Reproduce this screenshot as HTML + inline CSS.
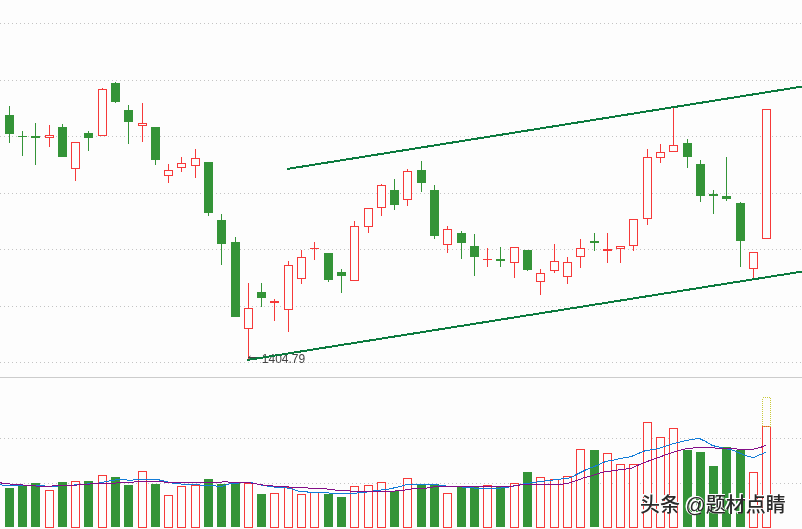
<!DOCTYPE html>
<html lang="zh"><head><meta charset="utf-8"><title>chart</title>
<style>
html,body{margin:0;padding:0;background:#fdfdfd;}
body{width:802px;height:529px;position:relative;overflow:hidden;font-family:"Liberation Sans","Noto Sans CJK SC",sans-serif;}
.wm{position:absolute;left:640px;top:490.5px;font-size:20px;line-height:28px;color:#2a2a2a;font-weight:500;white-space:nowrap;
text-shadow:-1px -1px 0 #fff,-1.5px -1.5px 0 #fff,-1px 0 0 #fff,0 -1px 0 #fff;}
</style></head><body>
<svg width="802" height="529" viewBox="0 0 802 529" style="position:absolute;left:0;top:0">
<rect width="802" height="529" fill="#fdfdfd"/>
<g stroke="#c4c4c4" stroke-width="1" stroke-dasharray="1 3" shape-rendering="crispEdges">
<line x1="0" y1="23.5" x2="802" y2="23.5"/>
<line x1="0" y1="80.5" x2="802" y2="80.5"/>
<line x1="0" y1="136.5" x2="802" y2="136.5"/>
<line x1="0" y1="193.5" x2="802" y2="193.5"/>
<line x1="0" y1="249.5" x2="802" y2="249.5"/>
<line x1="0" y1="306.5" x2="802" y2="306.5"/>
<line x1="0" y1="362.5" x2="802" y2="362.5"/>
<line x1="0" y1="438.5" x2="802" y2="438.5"/>
<line x1="0" y1="483.5" x2="802" y2="483.5"/>
</g>
<rect x="0" y="377" width="802" height="1" fill="#cccccc" shape-rendering="crispEdges"/>
<g shape-rendering="crispEdges">
<rect x="5" y="488" width="9" height="39" fill="#349438"/>
<rect x="18" y="485" width="9" height="42" fill="#349438"/>
<rect x="31" y="483" width="9" height="44" fill="#349438"/>
<rect x="45.5" y="490.5" width="8" height="37" fill="#fdfdfd" stroke="#f63939" stroke-width="1"/>
<rect x="58" y="482" width="9" height="45" fill="#349438"/>
<rect x="71.5" y="481.5" width="8" height="46" fill="#fdfdfd" stroke="#f63939" stroke-width="1"/>
<rect x="84" y="481" width="9" height="46" fill="#349438"/>
<rect x="98.5" y="475.5" width="8" height="52" fill="#fdfdfd" stroke="#f63939" stroke-width="1"/>
<rect x="111" y="477" width="9" height="50" fill="#349438"/>
<rect x="124" y="485" width="9" height="42" fill="#349438"/>
<rect x="138.5" y="471.5" width="8" height="56" fill="#fdfdfd" stroke="#f63939" stroke-width="1"/>
<rect x="151" y="484" width="9" height="43" fill="#349438"/>
<rect x="164.5" y="495.5" width="8" height="32" fill="#fdfdfd" stroke="#f63939" stroke-width="1"/>
<rect x="177.5" y="486.5" width="8" height="41" fill="#fdfdfd" stroke="#f63939" stroke-width="1"/>
<rect x="191.5" y="485.5" width="8" height="42" fill="#fdfdfd" stroke="#f63939" stroke-width="1"/>
<rect x="204" y="479" width="9" height="48" fill="#349438"/>
<rect x="217" y="484" width="9" height="43" fill="#349438"/>
<rect x="231" y="482" width="9" height="45" fill="#349438"/>
<rect x="244.5" y="483.5" width="8" height="44" fill="#fdfdfd" stroke="#f63939" stroke-width="1"/>
<rect x="257" y="494" width="9" height="33" fill="#349438"/>
<rect x="270.5" y="493.5" width="8" height="34" fill="#fdfdfd" stroke="#f63939" stroke-width="1"/>
<rect x="284.5" y="487.5" width="8" height="40" fill="#fdfdfd" stroke="#f63939" stroke-width="1"/>
<rect x="297.5" y="494.5" width="8" height="33" fill="#fdfdfd" stroke="#f63939" stroke-width="1"/>
<rect x="310.5" y="492.5" width="8" height="35" fill="#fdfdfd" stroke="#f63939" stroke-width="1"/>
<rect x="324" y="494" width="9" height="33" fill="#349438"/>
<rect x="337" y="497" width="9" height="30" fill="#349438"/>
<rect x="350.5" y="486.5" width="8" height="41" fill="#fdfdfd" stroke="#f63939" stroke-width="1"/>
<rect x="364.5" y="485.5" width="8" height="42" fill="#fdfdfd" stroke="#f63939" stroke-width="1"/>
<rect x="377.5" y="482.5" width="8" height="45" fill="#fdfdfd" stroke="#f63939" stroke-width="1"/>
<rect x="390" y="491" width="9" height="36" fill="#349438"/>
<rect x="403.5" y="478.5" width="8" height="49" fill="#fdfdfd" stroke="#f63939" stroke-width="1"/>
<rect x="417" y="484" width="9" height="43" fill="#349438"/>
<rect x="430" y="484" width="9" height="43" fill="#349438"/>
<rect x="443.5" y="493.5" width="8" height="34" fill="#fdfdfd" stroke="#f63939" stroke-width="1"/>
<rect x="457" y="486" width="9" height="41" fill="#349438"/>
<rect x="470" y="486" width="9" height="41" fill="#349438"/>
<rect x="483.5" y="485.5" width="8" height="42" fill="#fdfdfd" stroke="#f63939" stroke-width="1"/>
<rect x="496" y="486" width="9" height="41" fill="#349438"/>
<rect x="510.5" y="483.5" width="8" height="44" fill="#fdfdfd" stroke="#f63939" stroke-width="1"/>
<rect x="523" y="472" width="9" height="55" fill="#349438"/>
<rect x="536.5" y="477.5" width="8" height="50" fill="#fdfdfd" stroke="#f63939" stroke-width="1"/>
<rect x="550.5" y="479.5" width="8" height="48" fill="#fdfdfd" stroke="#f63939" stroke-width="1"/>
<rect x="563.5" y="476.5" width="8" height="51" fill="#fdfdfd" stroke="#f63939" stroke-width="1"/>
<rect x="576.5" y="449.5" width="8" height="78" fill="#fdfdfd" stroke="#f63939" stroke-width="1"/>
<rect x="590" y="450" width="9" height="77" fill="#349438"/>
<rect x="603.5" y="453.5" width="8" height="74" fill="#fdfdfd" stroke="#f63939" stroke-width="1"/>
<rect x="616.5" y="464.5" width="8" height="63" fill="#fdfdfd" stroke="#f63939" stroke-width="1"/>
<rect x="629.5" y="464.5" width="8" height="63" fill="#fdfdfd" stroke="#f63939" stroke-width="1"/>
<rect x="643.5" y="422.5" width="8" height="105" fill="#fdfdfd" stroke="#f63939" stroke-width="1"/>
<rect x="656.5" y="437.5" width="8" height="90" fill="#fdfdfd" stroke="#f63939" stroke-width="1"/>
<rect x="669.5" y="428.5" width="8" height="99" fill="#fdfdfd" stroke="#f63939" stroke-width="1"/>
<rect x="683" y="450" width="9" height="77" fill="#349438"/>
<rect x="696" y="452" width="9" height="75" fill="#349438"/>
<rect x="709" y="466" width="9" height="61" fill="#349438"/>
<rect x="722" y="447" width="9" height="80" fill="#349438"/>
<rect x="736" y="450" width="9" height="77" fill="#349438"/>
<rect x="749.5" y="472.5" width="8" height="55" fill="#fdfdfd" stroke="#f63939" stroke-width="1"/>
<rect x="762.5" y="426.5" width="8" height="101" fill="#fdfdfd" stroke="#f63939" stroke-width="1"/>
</g>
<rect x="762.5" y="397.5" width="8" height="29" fill="none" stroke="#c9c93a" stroke-width="1" stroke-dasharray="1 1" shape-rendering="crispEdges"/>
<polyline points="0,484.2 3,485.4 30,485.5 50,486.2 62,485.9 82,484.4 100,482.9 110,480.7 120,479.2 130,480.4 140,479 155,479 165,481.2 175,483.7 185,484.2 200,485.0 222,486.4 230,483.7 250,482.2 262,485.2 275,487.2 290,488.2 300,491.7 312,492.2 337,493.4 362,492.9 375,490.7 387,489.4 400,486.6 407,484.4 437,484.9 450,486.6 465,487.1 475,488.1 500,488.1 510,486.9 525,483.6 550,480.4 570,477.9 585,470.2 590,468.0 597,465.5 601,463.4 606,461.4 611.6,460.5 617,459.2 631,456.6 644,451.1 658,448.7 672,444 685,440.8 699,438.3 706,441.6 712,445.4 720,447.3 733,450.3 746,455.7 754,457.7 760,454.7 766,452.2" fill="none" stroke="#127cd8" stroke-width="1" shape-rendering="crispEdges"/>
<polyline points="0,482.5 3,483.5 16,484.5 29,485.5 43,486.5 56,485.8 75,485.2 100,483.2 125,482.9 140,481.4 160,481.7 175,482.9 200,482.7 225,481.9 250,482.9 262,484.9 275,486.2 300,487.7 325,488.7 340,490.7 362,491.4 375,491.4 400,490.9 412,488.9 425,488.4 437,486.4 462,486.6 487,486.4 510,486.4 525,484.4 550,484.4 560,484.4 570,482.9 585,477.4 590,476.4 603,472.1 617,470.2 631,468.3 644,462.6 658,457.7 672,452.5 685,448.9 699,447.3 712,447.9 726,448.4 740,449.2 753,449.2 760,447.6 766,445.1" fill="none" stroke="#840f88" stroke-width="1" shape-rendering="crispEdges"/>
<g shape-rendering="crispEdges">
<rect x="9" y="106" width="1" height="37" fill="#349438"/>
<rect x="5" y="115" width="9" height="19" fill="#349438"/>
<rect x="22" y="131" width="1" height="25" fill="#349438"/>
<rect x="18" y="136" width="9" height="1" fill="#349438"/>
<rect x="35" y="123" width="1" height="42" fill="#349438"/>
<rect x="31" y="136" width="9" height="2" fill="#349438"/>
<rect x="49" y="125" width="1" height="10" fill="#f63939"/>
<rect x="49" y="138" width="1" height="9" fill="#f63939"/>
<rect x="45.5" y="135.5" width="8" height="2" fill="#fdfdfd" stroke="#f63939" stroke-width="1"/>
<rect x="62" y="124" width="1" height="33" fill="#349438"/>
<rect x="58" y="127" width="9" height="30" fill="#349438"/>
<rect x="75" y="169" width="1" height="12" fill="#f63939"/>
<rect x="71.5" y="142.5" width="8" height="26" fill="#fdfdfd" stroke="#f63939" stroke-width="1"/>
<rect x="88" y="131" width="1" height="20" fill="#349438"/>
<rect x="84" y="133" width="9" height="5" fill="#349438"/>
<rect x="102" y="88" width="1" height="1" fill="#f63939"/>
<rect x="98.5" y="89.5" width="8" height="46" fill="#fdfdfd" stroke="#f63939" stroke-width="1"/>
<rect x="115" y="82" width="1" height="21" fill="#349438"/>
<rect x="111" y="83" width="9" height="19" fill="#349438"/>
<rect x="128" y="105" width="1" height="39" fill="#349438"/>
<rect x="124" y="110" width="9" height="12" fill="#349438"/>
<rect x="142" y="103" width="1" height="20" fill="#f63939"/>
<rect x="142" y="126" width="1" height="16" fill="#f63939"/>
<rect x="138.5" y="123.5" width="8" height="2" fill="#fdfdfd" stroke="#f63939" stroke-width="1"/>
<rect x="155" y="127" width="1" height="38" fill="#349438"/>
<rect x="151" y="127" width="9" height="33" fill="#349438"/>
<rect x="168" y="164" width="1" height="6" fill="#f63939"/>
<rect x="168" y="176" width="1" height="7" fill="#f63939"/>
<rect x="164.5" y="170.5" width="8" height="5" fill="#fdfdfd" stroke="#f63939" stroke-width="1"/>
<rect x="181" y="157" width="1" height="6" fill="#f63939"/>
<rect x="181" y="168" width="1" height="4" fill="#f63939"/>
<rect x="177.5" y="163.5" width="8" height="4" fill="#fdfdfd" stroke="#f63939" stroke-width="1"/>
<rect x="195" y="149" width="1" height="9" fill="#f63939"/>
<rect x="195" y="166" width="1" height="12" fill="#f63939"/>
<rect x="191.5" y="158.5" width="8" height="7" fill="#fdfdfd" stroke="#f63939" stroke-width="1"/>
<rect x="208" y="162" width="1" height="54" fill="#349438"/>
<rect x="204" y="162" width="9" height="51" fill="#349438"/>
<rect x="221" y="214" width="1" height="51" fill="#349438"/>
<rect x="217" y="220" width="9" height="24" fill="#349438"/>
<rect x="235" y="237" width="1" height="80" fill="#349438"/>
<rect x="231" y="242" width="9" height="75" fill="#349438"/>
<rect x="248" y="283" width="1" height="25" fill="#f63939"/>
<rect x="248" y="329" width="1" height="30" fill="#f63939"/>
<rect x="244.5" y="308.5" width="8" height="20" fill="#fdfdfd" stroke="#f63939" stroke-width="1"/>
<rect x="261" y="283" width="1" height="24" fill="#349438"/>
<rect x="257" y="292" width="9" height="6" fill="#349438"/>
<rect x="274" y="299" width="1" height="2" fill="#f63939"/>
<rect x="274" y="303" width="1" height="18" fill="#f63939"/>
<rect x="270" y="301" width="9" height="2" fill="#f63939"/>
<rect x="288" y="261" width="1" height="4" fill="#f63939"/>
<rect x="288" y="310" width="1" height="22" fill="#f63939"/>
<rect x="284.5" y="265.5" width="8" height="44" fill="#fdfdfd" stroke="#f63939" stroke-width="1"/>
<rect x="301" y="250" width="1" height="7" fill="#f63939"/>
<rect x="301" y="279" width="1" height="5" fill="#f63939"/>
<rect x="297.5" y="257.5" width="8" height="21" fill="#fdfdfd" stroke="#f63939" stroke-width="1"/>
<rect x="314" y="242" width="1" height="6" fill="#f63939"/>
<rect x="314" y="249" width="1" height="11" fill="#f63939"/>
<rect x="310" y="248" width="9" height="1" fill="#f63939"/>
<rect x="328" y="253" width="1" height="29" fill="#349438"/>
<rect x="324" y="253" width="9" height="27" fill="#349438"/>
<rect x="341" y="269" width="1" height="24" fill="#349438"/>
<rect x="337" y="272" width="9" height="4" fill="#349438"/>
<rect x="354" y="221" width="1" height="5" fill="#f63939"/>
<rect x="350.5" y="226.5" width="8" height="54" fill="#fdfdfd" stroke="#f63939" stroke-width="1"/>
<rect x="368" y="227" width="1" height="6" fill="#f63939"/>
<rect x="364.5" y="208.5" width="8" height="18" fill="#fdfdfd" stroke="#f63939" stroke-width="1"/>
<rect x="381" y="184" width="1" height="1" fill="#f63939"/>
<rect x="381" y="208" width="1" height="8" fill="#f63939"/>
<rect x="377.5" y="185.5" width="8" height="22" fill="#fdfdfd" stroke="#f63939" stroke-width="1"/>
<rect x="394" y="179" width="1" height="31" fill="#349438"/>
<rect x="390" y="190" width="9" height="15" fill="#349438"/>
<rect x="407" y="169" width="1" height="2" fill="#f63939"/>
<rect x="407" y="200" width="1" height="6" fill="#f63939"/>
<rect x="403.5" y="171.5" width="8" height="28" fill="#fdfdfd" stroke="#f63939" stroke-width="1"/>
<rect x="421" y="161" width="1" height="31" fill="#349438"/>
<rect x="417" y="170" width="9" height="13" fill="#349438"/>
<rect x="434" y="185" width="1" height="54" fill="#349438"/>
<rect x="430" y="190" width="9" height="46" fill="#349438"/>
<rect x="447" y="226" width="1" height="3" fill="#f63939"/>
<rect x="447" y="245" width="1" height="8" fill="#f63939"/>
<rect x="443.5" y="229.5" width="8" height="15" fill="#fdfdfd" stroke="#f63939" stroke-width="1"/>
<rect x="461" y="231" width="1" height="28" fill="#349438"/>
<rect x="457" y="233" width="9" height="10" fill="#349438"/>
<rect x="474" y="234" width="1" height="42" fill="#349438"/>
<rect x="470" y="246" width="9" height="11" fill="#349438"/>
<rect x="487" y="248" width="1" height="11" fill="#f63939"/>
<rect x="487" y="260" width="1" height="7" fill="#f63939"/>
<rect x="483" y="259" width="9" height="1" fill="#f63939"/>
<rect x="500" y="247" width="1" height="20" fill="#349438"/>
<rect x="496" y="259" width="9" height="2" fill="#349438"/>
<rect x="514" y="263" width="1" height="15" fill="#f63939"/>
<rect x="510.5" y="247.5" width="8" height="15" fill="#fdfdfd" stroke="#f63939" stroke-width="1"/>
<rect x="527" y="250" width="1" height="21" fill="#349438"/>
<rect x="523" y="250" width="9" height="20" fill="#349438"/>
<rect x="540" y="269" width="1" height="4" fill="#f63939"/>
<rect x="540" y="282" width="1" height="13" fill="#f63939"/>
<rect x="536.5" y="273.5" width="8" height="8" fill="#fdfdfd" stroke="#f63939" stroke-width="1"/>
<rect x="554" y="244" width="1" height="17" fill="#f63939"/>
<rect x="554" y="271" width="1" height="2" fill="#f63939"/>
<rect x="550.5" y="261.5" width="8" height="9" fill="#fdfdfd" stroke="#f63939" stroke-width="1"/>
<rect x="567" y="257" width="1" height="5" fill="#f63939"/>
<rect x="567" y="277" width="1" height="7" fill="#f63939"/>
<rect x="563.5" y="262.5" width="8" height="14" fill="#fdfdfd" stroke="#f63939" stroke-width="1"/>
<rect x="580" y="239" width="1" height="9" fill="#f63939"/>
<rect x="580" y="257" width="1" height="11" fill="#f63939"/>
<rect x="576.5" y="248.5" width="8" height="8" fill="#fdfdfd" stroke="#f63939" stroke-width="1"/>
<rect x="594" y="233" width="1" height="18" fill="#349438"/>
<rect x="590" y="241" width="9" height="2" fill="#349438"/>
<rect x="607" y="233" width="1" height="16" fill="#f63939"/>
<rect x="607" y="251" width="1" height="12" fill="#f63939"/>
<rect x="603" y="249" width="9" height="2" fill="#f63939"/>
<rect x="620" y="249" width="1" height="14" fill="#f63939"/>
<rect x="616.5" y="246.5" width="8" height="2" fill="#fdfdfd" stroke="#f63939" stroke-width="1"/>
<rect x="633" y="246" width="1" height="5" fill="#f63939"/>
<rect x="629.5" y="219.5" width="8" height="26" fill="#fdfdfd" stroke="#f63939" stroke-width="1"/>
<rect x="647" y="149" width="1" height="8" fill="#f63939"/>
<rect x="647" y="219" width="1" height="6" fill="#f63939"/>
<rect x="643.5" y="157.5" width="8" height="61" fill="#fdfdfd" stroke="#f63939" stroke-width="1"/>
<rect x="660" y="144" width="1" height="8" fill="#f63939"/>
<rect x="660" y="158" width="1" height="5" fill="#f63939"/>
<rect x="656.5" y="152.5" width="8" height="5" fill="#fdfdfd" stroke="#f63939" stroke-width="1"/>
<rect x="673" y="107" width="1" height="38" fill="#f63939"/>
<rect x="669.5" y="145.5" width="8" height="6" fill="#fdfdfd" stroke="#f63939" stroke-width="1"/>
<rect x="687" y="139" width="1" height="29" fill="#349438"/>
<rect x="683" y="143" width="9" height="14" fill="#349438"/>
<rect x="700" y="160" width="1" height="42" fill="#349438"/>
<rect x="696" y="164" width="9" height="32" fill="#349438"/>
<rect x="713" y="190" width="1" height="24" fill="#349438"/>
<rect x="709" y="194" width="9" height="2" fill="#349438"/>
<rect x="726" y="157" width="1" height="44" fill="#349438"/>
<rect x="722" y="196" width="9" height="3" fill="#349438"/>
<rect x="740" y="202" width="1" height="65" fill="#349438"/>
<rect x="736" y="203" width="9" height="38" fill="#349438"/>
<rect x="753" y="269" width="1" height="9" fill="#f63939"/>
<rect x="749.5" y="252.5" width="8" height="16" fill="#fdfdfd" stroke="#f63939" stroke-width="1"/>
<rect x="762.5" y="109.5" width="8" height="129" fill="#fdfdfd" stroke="#f63939" stroke-width="1"/>
</g>
<line x1="248" y1="357.5" x2="259" y2="357.5" stroke="#444" stroke-width="1"/>
<path d="M248.5 357.5 L250.5 356 M248.5 357.5 L250.5 359" stroke="#444" stroke-width="1" fill="none"/>
<text x="261.8" y="362.5" font-family="'Liberation Sans', sans-serif" font-size="12" fill="#444">1404.79</text>
<line x1="287" y1="169.0" x2="803" y2="86.42" stroke="#0b7a3e" stroke-width="2" shape-rendering="crispEdges"/>
<line x1="247.2" y1="360.0" x2="803" y2="271.42" stroke="#0b7a3e" stroke-width="2" shape-rendering="crispEdges"/>
</svg>
<div class="wm">头条 @题材点睛</div>
</body></html>
